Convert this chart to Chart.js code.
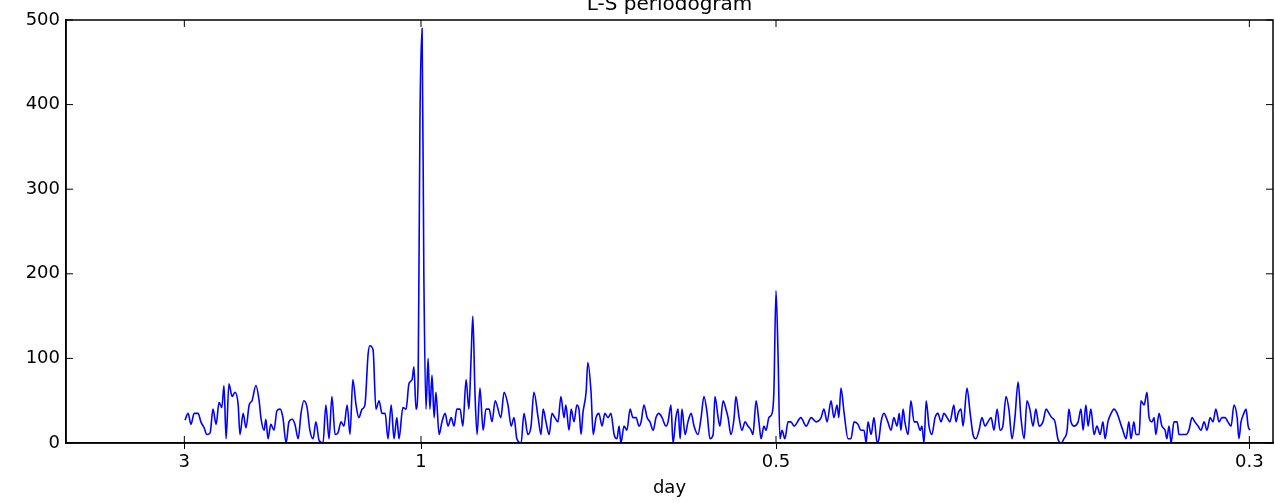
<!DOCTYPE html>
<html><head><meta charset="utf-8">
<script src="https://cdn.jsdelivr.net/npm/chart.js@4/dist/chart.umd.min.js"></script>
<style>html,body{margin:0;padding:0;background:#fff}#w{width:1275px;height:503px}</style>
</head><body><div id="w"><canvas id="c"></canvas></div>
<script>
const freq=[0.335,0.344,0.352,0.361,0.372,0.380,0.389,0.397,0.406,0.414,0.423,0.431,0.439,0.445,0.451,0.459,0.468,0.476,0.485,0.490,0.499,0.507,0.516,0.524,0.535,0.544,0.549,0.558,0.563,0.569,0.577,0.586,0.594,0.603,0.611,0.620,0.628,0.637,0.645,0.654,0.662,0.670,0.679,0.687,0.696,0.704,0.713,0.724,0.732,0.741,0.749,0.758,0.766,0.775,0.783,0.792,0.800,0.808,0.817,0.825,0.834,0.842,0.851,0.856,0.865,0.873,0.882,0.890,0.899,0.907,0.916,0.924,0.932,0.938,0.949,0.958,0.966,0.975,0.980,0.986,0.992,0.997,1.003,1.008,1.014,1.020,1.025,1.031,1.037,1.042,1.051,1.059,1.068,1.076,1.085,1.093,1.101,1.110,1.118,1.127,1.135,1.141,1.146,1.152,1.158,1.166,1.175,1.183,1.192,1.200,
1.209,1.225,1.234,1.245,1.254,1.262,1.270,1.282,1.290,1.301,1.310,1.318,1.330,1.338,1.344,1.352,1.361,1.369,1.377,1.386,1.394,1.403,1.408,1.417,1.423,1.431,1.439,1.445,1.451,1.456,1.465,1.470,1.479,1.485,1.493,1.501,1.510,1.518,1.527,1.535,1.544,1.552,1.558,1.563,1.572,1.580,1.589,1.597,1.606,1.614,1.620,1.628,1.637,1.645,1.654,1.662,1.670,1.679,1.690,1.696,1.704,1.710,1.718,1.724,1.730,1.735,1.744,1.752,1.761,1.769,1.780,1.789,1.797,1.806,1.814,1.823,1.828,1.837,1.842,1.851,1.859,1.865,1.873,1.882,1.887,1.896,1.904,1.913,1.921,1.930,1.935,1.944,1.952,1.958,1.966,1.972,1.980,1.989,1.994,2.000,2.006,2.011,2.017,2.025,2.034,2.042,2.051,
2.070,2.085,2.099,2.113,2.127,2.135,2.144,2.155,2.163,2.172,2.177,2.183,2.192,2.203,2.211,2.220,2.231,2.239,2.248,2.254,2.259,2.268,2.276,2.285,2.290,2.296,2.304,2.315,2.324,2.332,2.341,2.347,2.352,2.358,2.363,2.372,2.380,2.389,2.397,2.406,2.411,2.417,2.423,2.431,2.439,2.448,2.456,2.465,2.473,2.482,2.490,2.501,2.507,2.513,2.521,2.527,2.538,2.547,2.555,2.563,2.572,2.580,2.589,2.597,2.606,2.614,2.623,2.631,2.639,2.648,2.656,2.665,2.673,2.682,2.690,2.699,2.707,2.715,2.724,2.732,2.741,2.752,2.761,2.769,2.777,2.786,2.794,2.803,2.811,2.820,2.825,
2.831,2.839,2.851,2.859,2.865,2.873,2.879,2.887,2.896,2.904,2.913,2.921,2.927,2.935,2.944,2.952,2.961,2.969,2.977,2.986,2.994,3.000,3.008,3.014,3.023,3.028,3.037,3.045,3.051,3.059,3.065,3.070,3.079,3.087,3.096,3.101,3.107,3.113,3.121,3.130,3.135,3.144,3.155,3.163,3.172,3.180,3.189,3.197,3.206,3.214,3.223,3.231,3.239,3.248,3.256,3.265,3.273,3.282,3.290,3.299,3.304,3.310,3.318,3.324,3.330,3.335];
const power=[27,35,22,35,35,25,18,10,12,40,22,48,42,68,5,70,55,60,45,10,35,18,45,50,68,50,30,15,28,5,22,15,38,40,30,0,25,28,22,5,35,50,42,15,5,25,3,0,45,5,55,10,12,25,20,45,10,75,45,30,40,45,105,115,110,40,50,35,35,5,45,5,30,5,42,40,70,75,90,40,75,380,490,200,40,100,40,80,30,60,10,25,35,20,30,20,40,40,20,75,40,100,150,60,10,65,15,40,40,25,
50,30,60,45,20,30,5,0,35,10,20,60,30,10,40,25,10,35,30,25,55,30,45,15,40,25,45,40,10,35,60,95,60,10,30,35,20,35,30,35,10,5,20,0,20,15,40,30,30,20,25,45,30,25,15,30,35,30,20,25,45,0,30,40,5,40,10,25,35,20,10,30,55,35,5,10,55,30,20,50,40,30,10,30,55,30,15,25,20,15,10,50,25,5,20,15,30,35,60,180,100,5,15,5,25,25,20,
30,20,30,25,30,40,25,50,30,45,30,65,35,5,5,25,22,15,15,0,25,10,30,0,5,25,35,25,15,30,20,35,15,40,25,10,50,25,25,15,20,0,50,20,10,30,35,25,35,30,25,45,25,35,40,20,65,35,10,5,15,30,20,25,30,15,40,15,20,55,40,5,30,72,30,5,50,40,20,40,20,25,40,35,30,25,5,0,5,15,40,
25,20,25,40,15,45,20,40,10,20,10,25,5,25,35,40,35,25,15,5,25,5,25,10,10,50,45,60,30,25,30,10,35,20,15,5,20,0,25,25,10,10,10,15,30,25,20,15,25,15,30,25,40,25,30,30,25,20,45,30,5,25,35,40,20,15];
const xTicks=[1/3,1,2,10/3];
const xLabels=['3','1','0.5','0.3'];
const titleText='L-S periodogram';
const F='"DejaVu Sans", sans-serif';
new Chart(document.getElementById('c'),{
 type:'line',
 data:{datasets:[{data:freq.map((f,i)=>({x:f,y:power[i]})),borderColor:'#0000ff',borderWidth:1.6,pointRadius:0,fill:false,cubicInterpolationMode:'monotone'}]},
 options:{responsive:true,maintainAspectRatio:false,animation:false,
  layout:{padding:{top:20,right:2,left:0,bottom:0}},
  plugins:{legend:{display:false},tooltip:{enabled:false}},
  scales:{
   x:{type:'linear',min:0,max:3.4,
    afterBuildTicks:s=>{s.ticks=xTicks.map(v=>({value:v}));},
    afterFit:s=>{s.height=60;},
    ticks:{autoSkip:false,maxRotation:0,color:'#000',font:{family:F,size:18},padding:3,callback:(v,i)=>xLabels[i]},
    grid:{drawOnChartArea:false,color:'#000',tickLength:6},
    border:{color:'#000',width:1.5},
    title:{display:true,text:'day',color:'#000',font:{family:F,size:18},padding:{top:2}}},
   y:{min:0,max:500,
    afterBuildTicks:s=>{s.ticks=[0,100,200,300,400,500].map(v=>({value:v}));},
    afterFit:s=>{s.width=66;},
    ticks:{color:'#000',font:{family:F,size:18},padding:6},
    grid:{drawOnChartArea:false,color:'#000',tickLength:0},
    border:{color:'#000',width:1.5}}
  }},
 plugins:[{id:'frame',afterDraw(c){const a=c.chartArea,x=c.ctx;x.save();x.strokeStyle='#000';x.lineWidth=1.5;x.strokeRect(a.left,a.top,a.right-a.left,a.bottom-a.top);
  x.lineWidth=1;x.beginPath();xTicks.forEach(v=>{const p=c.scales.x.getPixelForValue(v);x.moveTo(p,a.top);x.lineTo(p,a.top+7);x.moveTo(p,a.bottom);x.lineTo(p,a.bottom-7);});
  [0,100,200,300,400,500].forEach(v=>{const p=c.scales.y.getPixelForValue(v);x.moveTo(a.left,p);x.lineTo(a.left+7,p);x.moveTo(a.right,p);x.lineTo(a.right-7,p);});x.stroke();
  x.fillStyle='#000';x.font='20px '+F;x.textAlign='center';x.textBaseline='middle';x.fillText(titleText,(a.left+a.right)/2,5);x.restore();}}]
});
</script></body></html>
